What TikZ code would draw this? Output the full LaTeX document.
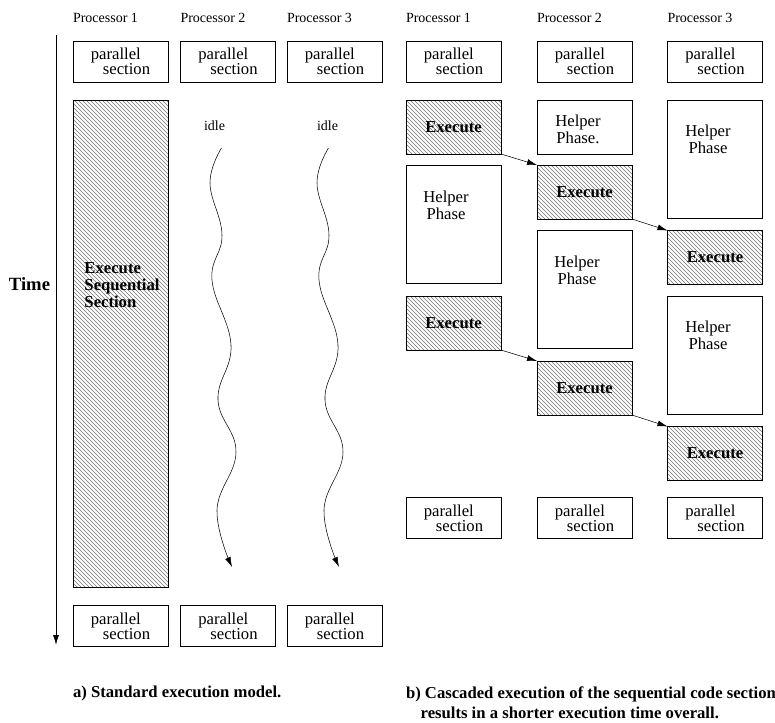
\documentclass[tikz,border=0pt]{standalone}
\usepackage{fontspec}
\setmainfont{Liberation Serif}
\usetikzlibrary{arrows,arrows.meta,shapes,positioning,patterns}

\begin{document}
\begin{tikzpicture}
[x=0.75pt,y=-0.75pt%
,>={Latex[length=7.5pt,width=4.5pt]}%
,every node/.style={inner sep=0pt,%
                    outer sep=0pt}%
,box/.style={draw=black,%
             rectangle,%
             line width=0.6pt,%
             minimum width=71.25pt}%
,parbox/.style={box,%
                minimum height=30.75pt,%
                align=left,%
                font=\fontsize{12.5}{11.5}\selectfont}%
,exebox/.style={box,%
                minimum height=40.5pt,%
                pattern=north west lines,%
                pattern color=black!55,%
                font=\fontsize{12.5}{12}\selectfont\bfseries}%
,helpbox/.style={box,%
                 minimum height=40.5pt}%
,tallbox/.style={helpbox,%
                 minimum height=88.5pt}%
,helptext/.style={align=center,%
                  font=\fontsize{12.5}{13}\selectfont}%
,proc/.style={font=\fontsize{10.5}{12}\selectfont}%
,caption/.style={align=left,%
                 anchor=west,%
                 font=\fontsize{12.5}{15}\selectfont\bfseries}]
\useasboundingbox (0,0) rectangle (775,722);

% a) standard model
\node[parbox] (lp1) at (120.5,61.5) {parallel\\\hspace*{9pt}section};
\node[parbox] (lp2) at (228,61.5) {parallel\\\hspace*{9pt}section};
\node[parbox] (lp3) at (334.5,61.5) {parallel\\\hspace*{9pt}section};
\node[proc,above right=13.5pt and 0pt of lp1.north west] (lh1) {Processor 1};
\node[proc,above right=13.5pt and 0pt of lp2.north west] (lh2) {Processor 2};
\node[proc,above right=13.5pt and 0pt of lp3.north west] (lh3) {Processor 3};

\node[box,minimum height=365.25pt,pattern=north west lines,pattern color=black!55]
  (seq) at (120.5,343.5) {};
\node[align=left,font=\fontsize{12.5}{13}\selectfont\bfseries] (seqtext) at (122,285)
  {Execute\\Sequential\\Section};

\node[parbox] (lq1) at (120.5,626) {parallel\\\hspace*{9pt}section};
\node[parbox] (lq2) at (228,626) {parallel\\\hspace*{9pt}section};
\node[parbox] (lq3) at (334.5,626) {parallel\\\hspace*{9pt}section};

\node[proc] (idle2) at (214.5,126) {idle};
\node[proc] (idle3) at (327.5,126) {idle};
\coordinate (w2s) at (221.5,148);
\coordinate (w2e) at (232,567);
\coordinate (w3s) at (328.5,148);
\coordinate (w3e) at (339,567);
\draw[->] plot[smooth,tension=0.7] coordinates {(w2s) (210,183) (222,235) (212,280)
  (231,345) (218,400) (236,452) (217,510) (w2e)};
\draw[->] plot[smooth,tension=0.7] coordinates {(w3s) (317,183) (329,235) (319,280)
  (338,345) (325,400) (343,452) (324,510) (w3e)};

\coordinate (tstart) at (56,35);
\coordinate (tend) at (56,645);
\draw[->,line width=0.6pt] (tstart) -- (tend);
\node[font=\fontsize{14}{16}\selectfont\bfseries] (time) at (29.5,284) {Time};

% b) cascaded model
\node[parbox] (rp1) at (453.5,61.5) {parallel\\\hspace*{9pt}section};
\node[parbox] (rp2) at (584.5,61.5) {parallel\\\hspace*{9pt}section};
\node[parbox] (rp3) at (715,61.5) {parallel\\\hspace*{9pt}section};
\node[proc,above right=13.5pt and 0pt of rp1.north west] (rh1) {Processor 1};
\node[proc,above right=13.5pt and 0pt of rp2.north west] (rh2) {Processor 2};
\node[proc,above right=13.5pt and 0pt of rp3.north west] (rh3) {Processor 3};

\node[exebox] (ex11) at (453.5,127) {Execute};
\node[tallbox] (hb11) at (453.5,224) {};
\node[exebox] (ex12) at (453.5,323) {Execute};

\node[helpbox] (hb21) at (584.5,127) {};
\node[exebox] (ex21) at (584.5,192) {Execute};
\node[tallbox] (hb22) at (584.5,289.5) {};
\node[exebox] (ex22) at (584.5,388) {Execute};

\node[tallbox] (hb31) at (715,159) {};
\node[exebox] (ex31) at (715,257.5) {Execute};
\node[tallbox] (hb32) at (715,355) {};
\node[exebox] (ex32) at (715,453.5) {Execute};

\node[helptext] (ht11) at (446,205) {Helper\\Phase};
\node[helptext] (ht21) at (578,129) {Helper\\Phase.};
\node[helptext] (ht22) at (577,270) {Helper\\Phase};
\node[helptext] (ht31) at (708,139) {Helper\\Phase};
\node[helptext] (ht32) at (708,335) {Helper\\Phase};

\draw[->] (ex11.south east) -- (ex21.north west);
\draw[->] (ex21.south east) -- (ex31.north west);
\draw[->] (ex12.south east) -- (ex22.north west);
\draw[->] (ex22.south east) -- (ex32.north west);

\node[parbox] (rq1) at (453.5,518) {parallel\\\hspace*{9pt}section};
\node[parbox] (rq2) at (584.5,518) {parallel\\\hspace*{9pt}section};
\node[parbox] (rq3) at (715,518) {parallel\\\hspace*{9pt}section};

% captions
\node[caption] (capa) at (73,693) {a) Standard execution model.};
\node[caption] (capb) at (406,703) {b) Cascaded execution of the sequential code section\\
  \hspace*{11pt}results in a shorter execution time overall.};
\end{tikzpicture}
\end{document}
